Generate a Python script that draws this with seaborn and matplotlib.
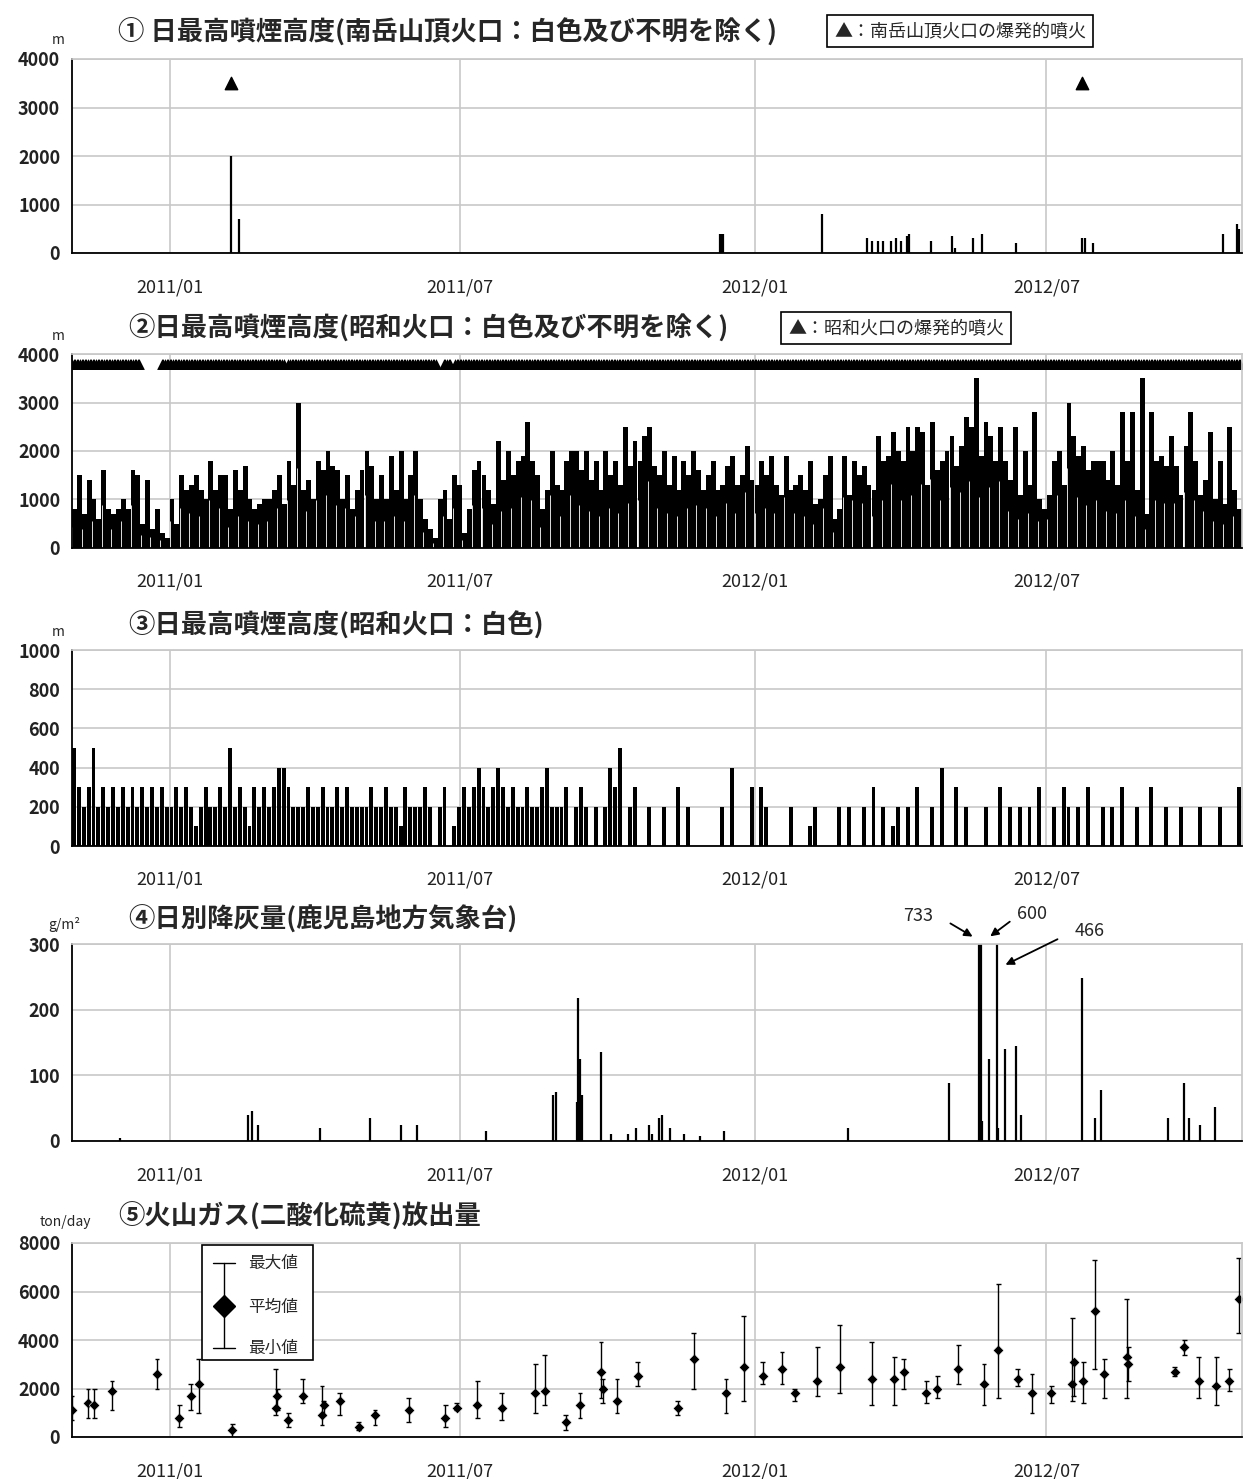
import numpy as np
import pandas as pd
import seaborn as sns
import matplotlib
matplotlib.use("Agg")
import matplotlib.pyplot as plt
from matplotlib.lines import Line2D
from matplotlib.patches import Rectangle

sns.set_theme(style="white")
plt.rcParams['font.family'] = ['Noto Sans CJK JP', 'DejaVu Sans']

# x values are days since 2010-11-01 (axis spans 730 days)
N_DAYS = 730
major_tick_days = [61, 242, 426, 608]
major_tick_labels = ["2011/01", "2011/07", "2012/01", "2012/07"]
minor_tick_days = [0, 30, 61, 92, 120, 151, 181, 212, 242, 273, 304, 334, 365, 395,
                   426, 457, 486, 517, 547, 578, 608, 639, 670, 700, 730]

# Panel 1: Minamidake summit crater
p1_days = [99, 104, 404, 405, 406, 468, 496, 499, 503, 506, 511, 514, 517, 521, 522, 536,
           549, 551, 562, 568, 589, 630, 632, 637, 718, 727, 728]
p1_height = [2000, 700, 400, 400, 400, 800, 300, 250, 250, 250, 250, 300, 250, 350, 400, 250,
             350, 100, 300, 400, 200, 300, 300, 200, 400, 600, 500]
p1_explosion_days = [99, 630]

# Panel 2: Showa crater (3-day resolution, Nov 2010 - Oct 2012)
p2_height = [
    800, 1500, 700, 1400, 1000, 600, 1600, 800, 700, 800,
    1000, 800, 1600, 1500, 500, 1400, 400, 800, 300, 200,
    1000, 500, 1500, 1200, 1300, 1500, 1200, 1000, 1800, 1200,
    1500, 1500, 800, 1600, 1200, 1700, 1000, 800, 900, 1000,
    1000, 1200, 1500, 900, 1800, 1300, 3000, 1200, 1400, 1000,
    1800, 1600, 2000, 1700, 1600, 1000, 1500, 800, 1200, 1600,
    2000, 1700, 1000, 1500, 1000, 1900, 1200, 2000, 1000, 1500,
    2000, 1000, 600, 400, 200, 1000, 1200, 600, 1500, 1300,
    300, 800, 1600, 1800, 1500, 1200, 900, 2200, 1400, 2000,
    1500, 1800, 1900, 2600, 1800, 1500, 800, 1200, 2000, 1300,
    1200, 1800, 2000, 2000, 1600, 2000, 1400, 1800, 1200, 2000,
    1500, 1800, 1300, 2500, 1700, 2200, 1800, 2300, 2500, 1700,
    1500, 2000, 1300, 1900, 1200, 1800, 1500, 2000, 1600, 1200,
    1500, 1800, 1200, 1300, 1700, 1900, 1300, 1500, 2100, 1400,
    1300, 1800, 1500, 1900, 1300, 1100, 1900, 1200, 1300, 1500,
    1200, 1800, 900, 1000, 1500, 1900, 600, 800, 1900, 1100,
    1800, 1500, 1700, 1300, 1200, 2300, 1800, 1900, 2400, 2000,
    1800, 2500, 2000, 2500, 2400, 1300, 2600, 1600, 1800, 2000,
    2300, 1700, 2100, 2700, 2500, 3500, 1900, 2600, 2300, 1800,
    2500, 1800, 1400, 2500, 1100, 2000, 1300, 2800, 1000, 800,
    1100, 1800, 2000, 1300, 3000, 2300, 1900, 2100, 1600, 1800,
    1800, 1800, 1400, 2000, 1300, 2800, 1800, 2800, 1200, 3500,
    700, 2800, 1800, 1900, 1700, 2300, 1700, 1100, 2100, 2800,
    1800, 1100, 1400, 2400, 1000, 1800, 900, 2500, 1200, 800]
p2_no_explosion_periods = [(43, 56), (133, 135), (228, 232), (237, 239)]

# Panel 3: Showa crater white plume (3-day resolution)
p3_height = [
    500, 300, 200, 300, 500, 200, 300, 200, 300, 200,
    300, 200, 300, 200, 300, 200, 300, 200, 300, 200,
    200, 300, 200, 300, 200, 100, 200, 300, 200, 200,
    300, 200, 500, 200, 300, 200, 100, 300, 200, 300,
    200, 300, 400, 400, 300, 200, 200, 200, 300, 200,
    200, 300, 200, 200, 300, 200, 300, 200, 200, 200,
    200, 300, 200, 200, 300, 200, 200, 100, 300, 200,
    200, 200, 300, 200, 0, 200, 300, 0, 100, 200,
    300, 200, 300, 400, 300, 200, 300, 400, 300, 200,
    300, 200, 200, 300, 200, 200, 300, 400, 200, 200,
    200, 300, 0, 200, 300, 200, 0, 200, 0, 200,
    400, 300, 500, 0, 200, 300, 0, 0, 200, 0,
    0, 200, 0, 0, 300, 0, 200, 0, 0, 0,
    0, 0, 0, 200, 0, 400, 0, 0, 0, 300,
    0, 300, 200, 0, 0, 0, 0, 200, 0, 0,
    0, 100, 200, 0, 0, 0, 0, 200, 0, 200,
    0, 0, 200, 0, 300, 0, 200, 0, 100, 200,
    0, 200, 0, 300, 0, 0, 200, 0, 400, 0,
    0, 300, 0, 200, 0, 0, 0, 200, 0, 0,
    300, 0, 200, 0, 200, 0, 200, 0, 300, 0,
    0, 200, 0, 300, 200, 0, 200, 0, 300, 0,
    0, 200, 0, 200, 0, 300, 0, 0, 200, 0,
    0, 300, 0, 0, 200, 0, 0, 200, 0, 0,
    0, 200, 0, 0, 0, 200, 0, 0, 0, 300]

# Panel 4: daily ash fall at Kagoshima
p4_days = [30, 110, 112, 116, 155, 186, 205, 215, 258, 300, 302, 315, 316, 317, 318, 330,
           336, 347, 352, 360, 362, 366, 368, 373, 382, 392, 407, 484, 547, 566, 567, 568,
           572, 577, 578, 582, 589, 592, 630, 638, 642, 684, 694, 697, 704, 713]
p4_ash = [5, 40, 45, 25, 20, 35, 25, 25, 15, 70, 75, 60, 218, 125, 70, 135,
          10, 10, 20, 25, 10, 35, 40, 20, 10, 8, 15, 20, 88, 733, 600, 30,
          125, 466, 20, 140, 145, 40, 248, 35, 77, 35, 88, 35, 25, 52]

# Panel 5: SO2 emission (mean, min, max)
p5_days = [0, 10, 14, 25, 53, 67, 74, 79, 100, 127, 128, 135, 144, 156, 157, 167, 179, 189,
           210, 233, 240, 253, 268, 289, 295, 308, 317, 330, 331, 340, 353, 378, 388, 408,
           419, 431, 443, 451, 465, 479, 499, 513, 519, 533, 540, 553, 569, 578, 590, 599,
           611, 624, 625, 631, 638, 644, 658, 659, 688, 694, 703, 714, 722, 728]
p5_mean = [1100, 1400, 1300, 1900, 2600, 800, 1700, 2200, 300, 1200, 1700, 700, 1700, 900, 1300,
           1500, 400, 900, 1100, 800, 1200, 1300, 1200, 1800, 1900, 600, 1300, 2700, 2000, 1500,
           2500, 1200, 3200, 1800, 2900, 2500, 2800, 1800, 2300, 2900, 2400, 2400, 2700, 1800,
           2000, 2800, 2200, 3600, 2400, 1800, 1800, 2200, 3100, 2300, 5200, 2600, 3300, 3000,
           2700, 3700, 2300, 2100, 2300, 5700]
p5_min = [700, 800, 800, 1100, 2000, 400, 1100, 1000, 0, 900, 1100, 400, 1400, 500, 900,
          900, 300, 500, 600, 400, 1100, 800, 700, 1000, 1300, 300, 800, 1600, 1400, 1000,
          2100, 900, 2000, 1000, 1500, 2200, 2200, 1500, 1700, 1800, 1300, 1300, 2000, 1400,
          1600, 2200, 1300, 1600, 2100, 1000, 1400, 1500, 1700, 1400, 2800, 1600, 1600, 2300,
          2500, 3400, 1600, 1300, 1900, 4300]
p5_max = [1700, 2000, 2000, 2300, 3200, 1300, 2200, 3200, 550, 2800, 2000, 1000, 2400, 2100, 1500,
          1800, 600, 1100, 1600, 1300, 1400, 2300, 1800, 3000, 3400, 900, 1800, 3900, 2400, 2400,
          3100, 1500, 4300, 2400, 5000, 3100, 3500, 2000, 3700, 4600, 3900, 3300, 3200, 2300,
          2500, 3800, 3000, 6300, 2800, 2600, 2100, 4900, 3100, 3100, 7300, 3200, 5700, 3700,
          2900, 4000, 3300, 3300, 2800, 7400]

fig = plt.figure(figsize=(12.45, 14.79), dpi=100)
W, H = 1245, 1479
def axes_px(top, bottom, left=72, right=1242):
    return fig.add_axes([left / W, 1 - bottom / H, (right - left) / W, (bottom - top) / H])

def style(ax, ymax, ystep):
    ax.set_xlim(0, N_DAYS)
    ax.set_ylim(0, ymax)
    ax.set_yticks(np.arange(0, ymax + 1, ystep))
    ax.set_xticks(major_tick_days)
    ax.set_xticklabels(major_tick_labels)
    ax.set_xticks(minor_tick_days, minor=True)
    ax.grid(True, axis='both', which='major', color='#c8c8c8', lw=1.2)
    ax.set_axisbelow(True)
    for s in ['top', 'right']:
        ax.spines[s].set_color('#c8c8c8')
    for s in ['left', 'bottom']:
        ax.spines[s].set_color('black')
        ax.spines[s].set_linewidth(1.3)
    ax.tick_params(axis='x', which='major', length=8, width=1.2, color='black', direction='out',
                   labelsize=13, pad=10)
    ax.tick_params(axis='x', which='minor', length=5, width=1, color='black', direction='out')
    ax.tick_params(axis='y', length=5, width=1, color='black', direction='out', labelsize=13)
    for t in ax.get_yticklabels():
        t.set_fontweight('bold')
        t.set_color('#222222')
    for t in ax.get_xticklabels():
        t.set_color('#222222')

def title(x, y, s, size=19):
    fig.text(x / W, 1 - y / H, s, fontsize=size, fontweight='bold', va='center', ha='left')

def unit(x, y, s):
    fig.text(x / W, 1 - y / H, s, fontsize=10, va='center', ha='left')

def boxtext(x, y, s):
    fig.text(x / W, 1 - y / H, s, fontsize=13, va='center', ha='left',
             bbox=dict(boxstyle='square,pad=0.4', fc='white', ec='black', lw=1.2))

# Panel 1
ax1 = axes_px(59, 253)
ax1.vlines(p1_days, 0, p1_height, color='black', lw=1.6)
ax1.scatter(p1_explosion_days, [3500] * len(p1_explosion_days), marker='^', s=80, color='black')
style(ax1, 4000, 1000)
unit(52, 40, "m"); title(118, 33, "① 日最高噴煙高度(南岳山頂火口：白色及び不明を除く)")
boxtext(834, 31, "▲：南岳山頂火口の爆発的噴火")

# Panel 2
ax2 = axes_px(354, 548)
step2 = N_DAYS / len(p2_height)
x2 = np.arange(len(p2_height)) * step2
ax2.bar(x2, p2_height, width=step2, align='edge', color='black', lw=0)
ax2.vlines(x2[::2] + 0.2, 0, np.array(p2_height[::2]) * 0.55, color='white', lw=0.6)
days_all = np.arange(N_DAYS)
mask = np.ones(N_DAYS, bool)
for a, b in p2_no_explosion_periods:
    mask[a:b] = False
ax2.scatter(days_all[mask], np.full(mask.sum(), 3800), marker='^', s=60, color='black', lw=0)
style(ax2, 4000, 1000)
unit(52, 336, "m"); title(128, 329, "②日最高噴煙高度(昭和火口：白色及び不明を除く)")
boxtext(788, 328, "▲：昭和火口の爆発的噴火")

# Panel 3
ax3 = axes_px(650, 846)
step3 = N_DAYS / len(p3_height)
x3 = np.arange(len(p3_height)) * step3
ax3.bar(x3, p3_height, width=step3 * 0.8, align='edge', color='black', lw=0)
style(ax3, 1000, 200)
unit(52, 632, "m"); title(128, 626, "③日最高噴煙高度(昭和火口：白色)")

# Panel 4
ax4 = axes_px(944, 1141)
ax4.vlines(p4_days, 0, np.minimum(p4_ash, 300), color='black', lw=1.6)
style(ax4, 300, 100)
unit(48, 925, "g/m²"); title(128, 920, "④日別降灰量(鹿児島地方気象台)")
for txt, tx, ty in [("733", 918, 916), ("600", 1032, 914), ("466", 1090, 931)]:
    fig.text(tx / W, 1 - ty / H, txt, fontsize=13, ha='center', va='center')
for (x0, y0), (x1, y1) in [((948, 922), (975, 938)), ((1012, 920), (988, 938)), ((1060, 938), (1003, 966))]:
    ax4.annotate("", xy=(x1 / W, 1 - y1 / H), xytext=(x0 / W, 1 - y0 / H), xycoords='figure fraction',
                 arrowprops=dict(arrowstyle='-|>', color='black', lw=1.3))

# Panel 5
ax5 = axes_px(1243, 1437)
df5 = pd.DataFrame({"day": p5_days, "mean": p5_mean, "min": p5_min, "max": p5_max})
ax5.vlines(df5["day"], df5["min"], df5["max"], color='black', lw=1)
ax5.hlines(df5["min"], df5["day"] - 1.5, df5["day"] + 1.5, color='black', lw=1)
ax5.hlines(df5["max"], df5["day"] - 1.5, df5["day"] + 1.5, color='black', lw=1)
sns.scatterplot(data=df5, x="day", y="mean", marker='D', s=30, color='black', ax=ax5, legend=False)
ax5.set_xlabel(""); ax5.set_ylabel("")
style(ax5, 8000, 2000)
unit(40, 1222, "ton/day"); title(118, 1217, "⑤火山ガス(二酸化硫黄)放出量")
fig.patches.append(Rectangle((202 / W, 1 - 1360 / H), 111 / W, 115 / H, transform=fig.transFigure,
                             fc='white', ec='black', lw=1.2, zorder=5))
lx = 224 / W
fig.lines.append(Line2D([lx, lx], [1 - 1263 / H, 1 - 1348 / H], transform=fig.transFigure, color='black', lw=1, zorder=6))
for yy in (1263, 1348):
    fig.lines.append(Line2D([lx - 11 / W, lx + 11 / W], [1 - yy / H] * 2, transform=fig.transFigure, color='black', lw=1, zorder=6))
fig.lines.append(Line2D([lx], [1 - 1306 / H], transform=fig.transFigure, marker='D', ms=11, color='black', zorder=6))
for yy, s in [(1263, "最大値"), (1307, "平均値"), (1348, "最小値")]:
    fig.text(248 / W, 1 - yy / H, s, fontsize=12, va='center', ha='left', zorder=7)

fig.savefig("out.png", dpi=100, facecolor='white')
